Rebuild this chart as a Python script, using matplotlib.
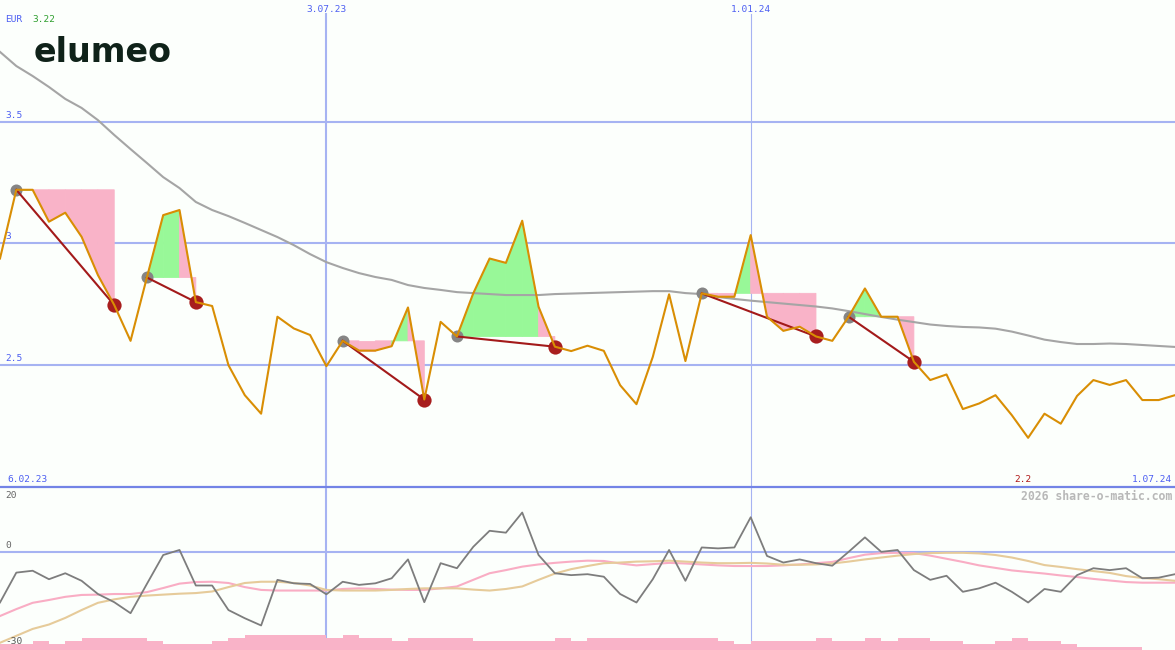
import numpy as np
import pandas as pd
import matplotlib
matplotlib.use("Agg")
import matplotlib.pyplot as plt
import matplotlib.dates as mdates
import matplotlib.transforms as mtransforms
from matplotlib.patches import Polygon

# weekly closes, 13.02.23 .. 1.07.24
weeks = pd.date_range("2023-02-13", "2024-07-01", freq="7D")

price = [
    2.938, 3.22, 3.22, 3.089, 3.126, 3.027, 2.870, 2.747, 2.600, 2.860,
    3.116, 3.137, 2.759, 2.743, 2.500, 2.377, 2.301, 2.699, 2.651, 2.624,
    2.496, 2.600, 2.560, 2.560, 2.578, 2.737, 2.359, 2.678, 2.618, 2.795,
    2.938, 2.920, 3.093, 2.740, 2.576, 2.558, 2.580, 2.559, 2.418, 2.340,
    2.534, 2.791, 2.517, 2.795, 2.781, 2.781, 3.034, 2.699, 2.641, 2.658,
    2.618, 2.600, 2.699, 2.815, 2.699, 2.699, 2.514, 2.439, 2.462, 2.320,
    2.343, 2.377, 2.295, 2.202, 2.301, 2.260, 2.374, 2.439, 2.419, 2.439,
    2.357, 2.357, 2.377,
]

moving_avg = [
    3.786, 3.728, 3.687, 3.642, 3.593, 3.556, 3.506, 3.445, 3.387, 3.330,
    3.272, 3.227, 3.170, 3.137, 3.112, 3.084, 3.055, 3.026, 2.993, 2.956,
    2.923, 2.899, 2.878, 2.862, 2.850, 2.829, 2.817, 2.809, 2.800, 2.796,
    2.792, 2.788, 2.788, 2.788, 2.792, 2.794, 2.796, 2.798, 2.800, 2.802,
    2.804, 2.804, 2.796, 2.792, 2.780, 2.772, 2.765, 2.759, 2.753, 2.747,
    2.741, 2.733, 2.722, 2.710, 2.698, 2.687, 2.677, 2.667, 2.661, 2.657,
    2.655, 2.650, 2.638, 2.622, 2.605, 2.595, 2.587, 2.587, 2.589, 2.587,
    2.583, 2.579, 2.575,
]

# lower panel
momentum = [
    -16.2, -6.7, -6.1, -8.8, -6.9, -9.3, -13.5, -16.1, -19.6, -10.3,
    -1.1, 0.5, -10.8, -10.8, -18.6, -21.2, -23.5, -9.0, -10.1, -10.3,
    -13.6, -9.6, -10.6, -10.1, -8.5, -2.5, -16.1, -3.7, -5.3, 1.5,
    6.6, 6.0, 12.4, -1.1, -6.9, -7.5, -7.2, -8.0, -13.5, -16.2,
    -8.8, 0.5, -9.3, 1.3, 1.0, 1.3, 10.9, -1.4, -3.5, -2.5,
    -3.7, -4.5, -0.1, 4.5, -0.1, 0.5, -5.9, -9.0, -7.7, -12.8,
    -11.7, -9.9, -12.8, -16.2, -11.9, -12.8, -7.5, -5.3, -5.9, -5.3,
    -8.5, -8.3, -7.2,
]

smooth_fast = [
    -20.5, -18.3, -16.3, -15.4, -14.4, -13.8, -13.7, -13.5, -13.5, -12.9,
    -11.6, -10.2, -9.7, -9.6, -10.0, -11.3, -12.2, -12.4, -12.4, -12.4,
    -12.4, -11.9, -11.7, -11.9, -12.1, -12.2, -12.2, -11.7, -11.1, -9.0,
    -6.9, -5.9, -4.8, -4.1, -3.6, -3.2, -2.9, -3.0, -3.8, -4.4,
    -4.0, -3.6, -3.8, -4.1, -4.4, -4.6, -4.6, -4.6, -4.4, -4.1,
    -3.7, -3.3, -2.1, -1.0, -0.5, -0.4, -0.5, -1.3, -2.3, -3.3,
    -4.4, -5.2, -6.0, -6.5, -7.0, -7.6, -8.1, -8.7, -9.2, -9.7,
    -9.9, -9.9, -9.9,
]

smooth_slow = [
    -29.0, -26.8, -24.6, -23.2, -21.1, -18.6, -16.3, -15.2, -14.4, -14.0,
    -13.7, -13.4, -13.2, -12.7, -11.3, -10.0, -9.6, -9.6, -10.0, -10.8,
    -12.2, -12.4, -12.4, -12.4, -12.2, -11.9, -11.7, -11.7, -11.7, -12.1,
    -12.4, -11.9, -11.1, -9.0, -7.0, -5.6, -4.6, -3.7, -3.5, -3.2,
    -3.1, -2.9, -3.2, -3.5, -3.7, -3.7, -3.6, -3.8, -4.2, -4.2,
    -4.1, -3.8, -3.2, -2.5, -1.9, -1.3, -0.8, -0.5, -0.4, -0.4,
    -0.6, -1.1, -1.9, -3.0, -4.3, -4.9, -5.6, -6.2, -6.8, -7.8,
    -8.4, -8.8, -9.3,
]

volume_level = [
    2, 2, 3, 2, 3, 4, 4, 4, 4, 3,
    2, 2, 2, 3, 4, 5, 5, 5, 5, 5,
    4, 5, 4, 4, 3, 4, 4, 4, 4, 3,
    3, 3, 3, 3, 4, 3, 4, 4, 4, 4,
    4, 4, 4, 4, 3, 2, 3, 3, 3, 3,
    4, 3, 3, 4, 3, 4, 4, 3, 3, 2,
    2, 3, 4, 3, 3, 2, 1, 1, 1, 1,
    0, 0, 0,
]

# signals (week index)
entries = [1, 9, 21, 28, 43, 52]
exits = [7, 12, 26, 34, 50, 56]

price_levels = [3.5, 3.0, 2.5]
marker_dates = ["2023-07-03", "2024-01-01"]

BG = "#fcfffc"
GRID = "#a6b3f2"
BLUE_TXT = "#4d5ff2"
PINK = "#f9b3c8"
GREEN = "#98f898"
MONO = "DejaVu Sans Mono"

x = mdates.date2num(weeks)
price = np.array(price)

fig = plt.figure(figsize=(11.75, 6.5), dpi=100)
fig.patch.set_facecolor(BG)
ax = fig.add_axes([0, 162 / 650, 1, 488 / 650])
axl = fig.add_axes([0, 0, 1, 162 / 650])
for a in (ax, axl):
    a.set_facecolor(BG)
    a.set_axis_off()
    a.set_xlim(x[0], x[-1])

ax.set_ylim(1.996, 3.999)
axl.set_ylim(-31.3, 20.2)

# grid
for lv in price_levels:
    ax.axhline(lv, color=GRID, lw=1.5, zorder=0)
    ax.annotate(f"{lv:g}", xy=(0, lv), xycoords=mtransforms.blended_transform_factory(ax.transAxes, ax.transData),
                xytext=(5, 2), textcoords="offset pixels", ha="left", va="bottom",
                color=BLUE_TXT, fontsize=6.8, family=MONO)
ax.axhline(2.0, color="#7384e6", lw=1.6, zorder=6, clip_on=False)
axl.axhline(0, color=GRID, lw=1.5, zorder=0)

top_tr = mtransforms.blended_transform_factory(ax.transData, ax.transAxes)
for i, d in enumerate(marker_dates):
    xd = mdates.date2num(pd.Timestamp(d))
    lw = 1.5 if i == 0 else 0.8
    ax.axvline(xd, ymax=1 - 14 / 488, color=GRID, lw=lw, zorder=0)
    axl.axvline(xd, color=GRID, lw=lw, zorder=0)
    ts = pd.Timestamp(d)
    ax.annotate(f"{ts.day}.{ts.month:02d}.{ts.year % 100:02d}", xy=(xd, 1), xycoords=top_tr,
                xytext=(0, -9), textcoords="offset pixels", ha="center", va="center",
                color=BLUE_TXT, fontsize=6.8, family=MONO)

# signal areas
for e, q in zip(entries, exits):
    level = price[e]
    for i in range(e, q):
        poly = [(x[i], price[i]), (x[i + 1], price[i + 1]), (x[i + 1], level), (x[i], level)]
        col = GREEN if price[i + 1] >= level else PINK
        ax.add_patch(Polygon(poly, closed=True, facecolor=col, edgecolor=col, lw=0.6, zorder=1))

ax.plot(x, moving_avg, color="#a5a5a5", lw=1.5, zorder=2)

ax.scatter(x[entries], price[entries], s=75, color="#858585", zorder=3, linewidths=0)
ax.scatter(x[exits], price[exits], s=105, color="#a81e1e", zorder=3, linewidths=0)
for e, q in zip(entries, exits):
    ax.plot([x[e], x[q]], [price[e], price[q]], color="#a31a1a", lw=1.5, zorder=3)

ax.plot(x, price, color="#d98e04", lw=1.5, zorder=4)

# labels main panel
ax.annotate("EUR", xy=(0, 1), xycoords="axes fraction", xytext=(5, -20), textcoords="offset pixels",
            ha="left", va="center", color=BLUE_TXT, fontsize=6.8, family=MONO)
ax.annotate(f"{price[entries[0]]:.2f}", xy=(0, 1), xycoords="axes fraction", xytext=(32, -20),
            textcoords="offset pixels", ha="left", va="center", color="#2f9f2f", fontsize=6.8, family=MONO)
ax.annotate("elumeo", xy=(0, 1), xycoords="axes fraction", xytext=(34, -62), textcoords="offset pixels",
            ha="left", va="baseline", color="#0f2219", fontsize=24, fontweight="bold", family="DejaVu Sans")

ax.annotate(f"{weeks[0].day - 7}.{weeks[0].month:02d}.{weeks[0].year % 100:02d}", xy=(0, 0),
            xycoords="axes fraction", xytext=(7, 9), textcoords="offset pixels",
            ha="left", va="center", color=BLUE_TXT, fontsize=6.8, family=MONO)
ax.annotate(f"{weeks[-1].day}.{weeks[-1].month:02d}.{weeks[-1].year % 100:02d}", xy=(1, 0),
            xycoords="axes fraction", xytext=(-3, 9), textcoords="offset pixels",
            ha="right", va="center", color=BLUE_TXT, fontsize=6.8, family=MONO)
imin = int(np.argmin(price))
ax.annotate(f"{price[imin]:.1f}", xy=(x[imin], 0), xycoords=top_tr, xytext=(-5, 9),
            textcoords="offset pixels", ha="center", va="center", color="#b01818", fontsize=6.8, family=MONO)

# lower panel
axl.plot(x, smooth_fast, color="#f9adc4", lw=1.5, zorder=2)
axl.plot(x, smooth_slow, color="#e6cb9a", lw=1.5, zorder=2)
axl.plot(x, momentum, color="#7d7d7d", lw=1.3, zorder=3)

axv = axl.twinx()
axv.set_axis_off()
axv.set_ylim(0, 54)
axv.fill_between(x, volume_level, 0, step="post", color=PINK, lw=0, zorder=1)

axl.annotate("20", xy=(0, 1), xycoords="axes fraction", xytext=(5, -8), textcoords="offset pixels",
             ha="left", va="center", color="#666666", fontsize=6.8, family=MONO)
axl.annotate("0", xy=(0, 0), xycoords=mtransforms.blended_transform_factory(axl.transAxes, axl.transData),
             xytext=(5, 6), textcoords="offset pixels", ha="left", va="center",
             color="#666666", fontsize=6.8, family=MONO)
axv.annotate("-30", xy=(0, 0), xycoords="axes fraction", xytext=(5, 8), textcoords="offset pixels",
             ha="left", va="center", color="#555555", fontsize=6.8, family=MONO, zorder=5)
axl.annotate("2026 share-o-matic.com", xy=(1, 1), xycoords="axes fraction", xytext=(-3, -9),
             textcoords="offset pixels", ha="right", va="center", color="#b8b8b8",
             fontsize=8.3, fontweight="bold", family=MONO)

fig.savefig("out.png", dpi=100, facecolor=BG)
